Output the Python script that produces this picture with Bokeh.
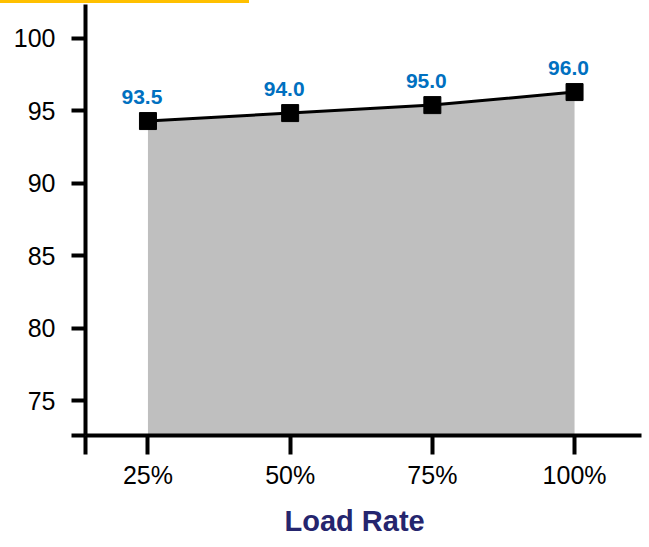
from bokeh.plotting import figure
from bokeh.models import ColumnDataSource, FixedTicker, Range1d, LabelSet, Title
from bokeh.core.properties import value
from bokeh.embed import file_html
from bokeh.resources import INLINE

# ---- data ----
load = [25, 50, 75, 100]
x_tick_labels = ["25%", "50%", "75%", "100%"]
efficiency = [94.3, 94.85, 95.4, 96.3]
value_labels = ["93.5", "94.0", "95.0", "96.0"]
y_ticks = [75, 80, 85, 90, 95, 100]
x_title = "Load Rate"

Y_START, Y_END = 72.61, 102.34
X_START, X_END = 14.02, 111.77

FONT = "Liberation Sans"

src = ColumnDataSource(data=dict(x=load, y=efficiency, label=value_labels))

p = figure(width=649, height=547,
           x_range=Range1d(X_START, X_END), y_range=Range1d(Y_START, Y_END),
           output_backend="svg", toolbar_location=None,
           min_border_left=85, min_border_right=8,
           min_border_top=4, min_border_bottom=109,
           styles={"background": "linear-gradient(#FFC000, #FFC000) no-repeat 0 0 / 249px 3px"})
p.outline_line_color = None
p.grid.visible = False
p.background_fill_color = "white"
p.border_fill_color = None

p.varea(x="x", y1=Y_START, y2="y", source=src, fill_color="#BFBFBF")
p.line("x", "y", source=src, line_color="black", line_width=3)
p.scatter("x", "y", source=src, marker="square", size=17,
          fill_color="black", line_color="black")

labels = LabelSet(x="x", y="y", text="label", source=src,
                  x_offset=-6, y_offset=24,
                  text_align="center", text_baseline="middle",
                  text_font_size="21px", text_font_style="bold",
                  text_color="#0070C0", text_font=value(FONT))
p.add_layout(labels)

# y axis (extra tick at the bottom edge extends the x axis line to the left)
ya = p.yaxis[0]
ya.ticker = FixedTicker(ticks=[Y_START] + y_ticks)
ya.major_label_overrides = {Y_START: ""}
ya.axis_line_width = 4
ya.axis_line_color = "black"
ya.major_tick_out = 14
ya.major_tick_in = 0
ya.major_tick_line_width = 4
ya.minor_tick_line_color = None
ya.major_label_text_font = FONT
ya.major_label_text_font_size = "25px"
ya.major_label_text_color = "black"
ya.major_label_standoff = 16

# x axis
xa = p.xaxis[0]
xa.ticker = FixedTicker(ticks=[X_START] + load)
overrides = {X_START: ""}
for v, t in zip(load, x_tick_labels):
    overrides[v] = t
xa.major_label_overrides = overrides
xa.axis_line_width = 4
xa.axis_line_color = "black"
xa.major_tick_out = 19
xa.major_tick_in = 0
xa.major_tick_line_width = 4
xa.minor_tick_line_color = None
xa.major_label_text_font = FONT
xa.major_label_text_font_size = "25px"
xa.major_label_text_color = "black"
xa.major_label_standoff = 6

xtitle = Title(text=x_title, align="left", offset=199, standoff=22,
               vertical_align="bottom",
               text_font=FONT, text_font_size="29px", text_font_style="bold",
               text_color="#25256E")
p.add_layout(xtitle, "below")

open("out.html", "w").write(file_html(p, INLINE))
